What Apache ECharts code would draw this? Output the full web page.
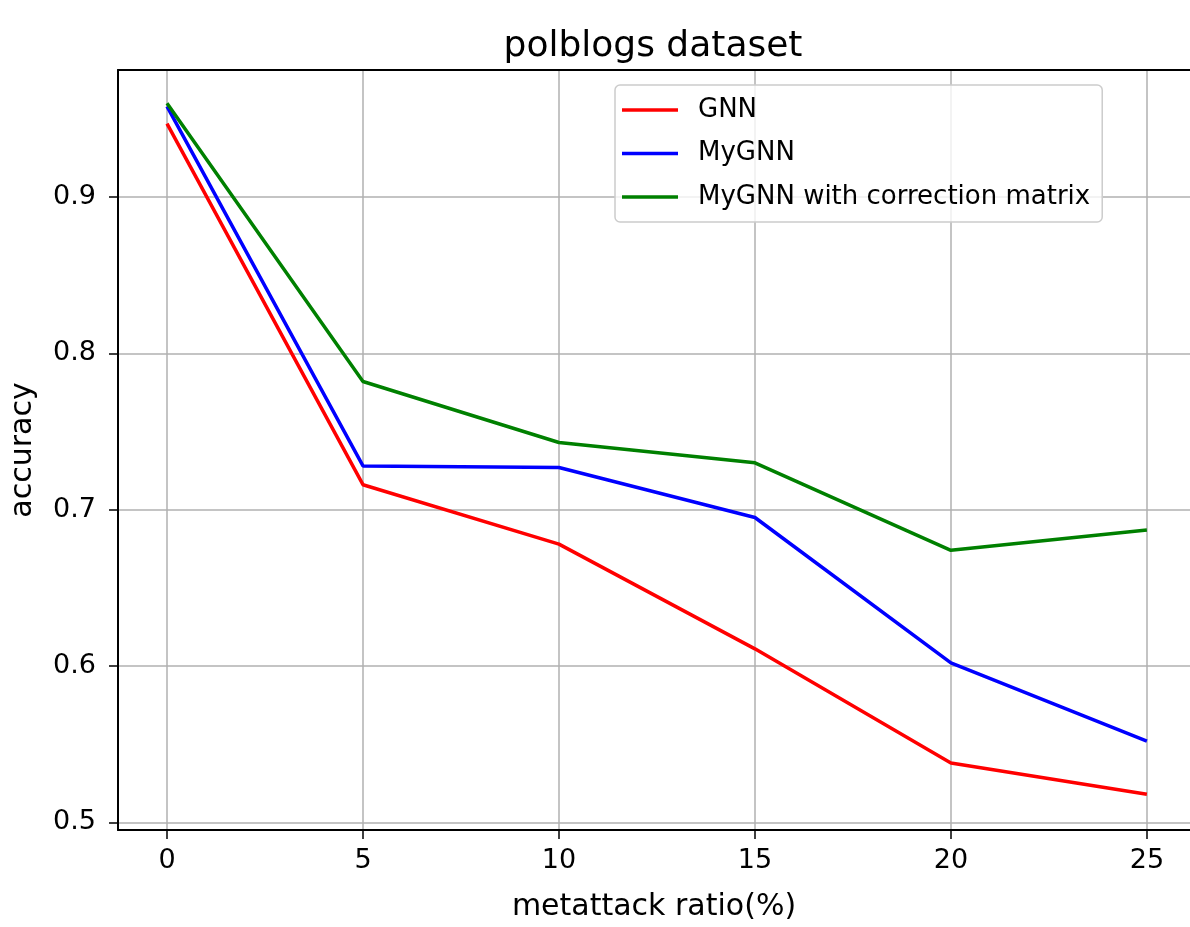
<!DOCTYPE html>
<html>
<head>
<meta charset="utf-8">
<title>polblogs dataset</title>
<script src="https://cdn.jsdelivr.net/npm/echarts@6/dist/echarts.min.js"></script>
<style>
  html, body { margin: 0; padding: 0; background: #fff; }
  #chart { width: 1190px; height: 927px; }
</style>
</head>
<body>
<div id="chart"></div>
<script>
// metattack ratio (%) on the x axis
const ratios = [0, 5, 10, 15, 20, 25];

// accuracy per model
const gnnAcc = [0.947, 0.716, 0.678, 0.611, 0.538, 0.518];
const myGnnAcc = [0.958, 0.728, 0.727, 0.695, 0.602, 0.552];
const correctedAcc = [0.960, 0.782, 0.743, 0.730, 0.674, 0.687];

const seriesNames = ['GNN', 'MyGNN', 'MyGNN with correction matrix'];

// tick labels
const xTicks = [0, 5, 10, 15, 20, 25];
const yTicks = [0.5, 0.6, 0.7, 0.8, 0.9];

const font = 'DejaVu Sans';

const toPoints = (vals) => ratios.map((r, i) => [r, vals[i]]);

const chart = echarts.init(document.getElementById('chart'));

const lineSeries = (name, vals, color) => ({
    name: name,
    type: 'line',
    xAxisIndex: 0,
    data: toPoints(vals),
    symbol: 'none',
    lineStyle: { color: color, width: 3.5 },
    itemStyle: { color: color },
    emphasis: { disabled: true },
    animation: false
});

// the figure is cut at the right edge, so the frame has no right side
const xMin = -1.25, xMax = 26.1;

const option = {
    backgroundColor: '#fff',
    title: {
        text: 'polblogs dataset',
        left: 648,
        top: 24,
        textAlign: 'center',
        textStyle: { fontFamily: font, fontSize: 36, fontWeight: 'normal', color: '#000' }
    },
    legend: {
        orient: 'vertical',
        left: 615,
        top: 85,
        padding: [12, 12, 12, 7],
        icon: 'rect',
        itemWidth: 56,
        itemHeight: 3.5,
        itemGap: 17.5,
        backgroundColor: 'rgba(255,255,255,0.8)',
        borderColor: '#cccccc',
        borderWidth: 1.5,
        borderRadius: 5,
        textStyle: { fontFamily: font, fontSize: 26, color: '#000', padding: [0, 0, 0, 15] },
        data: seriesNames
    },
    grid: {
        left: 118,
        top: 70,
        right: 0,
        height: 760,
        show: false,
        containLabel: false
    },
    xAxis: [{
        type: 'value',
        min: xMin,
        max: xMax,
        name: 'metattack ratio(%)',
        nameLocation: 'middle',
        nameGap: 62,
        nameTextStyle: { fontFamily: font, fontSize: 30, color: '#000' },
        axisLine: { show: true, onZero: false, lineStyle: { color: '#000', width: 2 } },
        axisTick: { show: true, length: 9, lineStyle: { color: '#000', width: 1.5 }, customValues: xTicks },
        axisLabel: { fontFamily: font, fontSize: 27, color: '#000', margin: 17, customValues: xTicks },
        splitLine: { show: true, lineStyle: { color: '#b0b0b0', width: 1.5 } }
    }, {
        type: 'value',
        position: 'top',
        min: xMin,
        max: xMax,
        axisLine: { show: true, onZero: false, lineStyle: { color: '#000', width: 2 } },
        axisTick: { show: false },
        axisLabel: { show: false },
        splitLine: { show: false }
    }],
    yAxis: {
        type: 'value',
        min: 0.4951,
        max: 0.9813,
        name: 'accuracy',
        nameLocation: 'middle',
        nameGap: 80,
        nameRotate: 90,
        nameTextStyle: { fontFamily: font, fontSize: 30, color: '#000' },
        axisLine: { show: true, onZero: false, lineStyle: { color: '#000', width: 2 } },
        axisTick: { show: true, length: 9, lineStyle: { color: '#000', width: 1.5 }, customValues: yTicks },
        axisLabel: {
            fontFamily: font, fontSize: 27, color: '#000', margin: 22,
            customValues: yTicks,
            formatter: (v) => v.toFixed(1)
        },
        splitLine: { show: true, lineStyle: { color: '#b0b0b0', width: 1.5 } }
    },
    series: [
        lineSeries(seriesNames[0], gnnAcc, '#ff0000'),
        lineSeries(seriesNames[1], myGnnAcc, '#0000ff'),
        lineSeries(seriesNames[2], correctedAcc, '#008000')
    ]
};

chart.setOption(option);
</script>
</body>
</html>
